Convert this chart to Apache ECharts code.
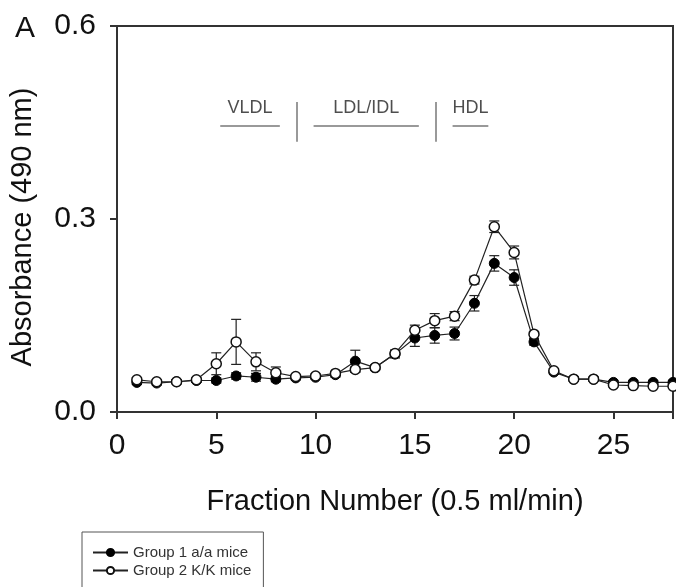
<!DOCTYPE html>
<html>
<head>
<meta charset="utf-8">
<script src="https://cdn.jsdelivr.net/npm/echarts@6/dist/echarts.min.js"></script>
<style>
  html, body { margin: 0; padding: 0; background: #fff; }
  #chart { width: 676px; height: 587px; }
</style>
</head>
<body>
<div id="chart"></div>
<script>
// fraction numbers
const fractions = [1, 2, 3, 4, 5, 6, 7, 8, 9, 10, 11, 12, 13, 14, 15, 16, 17, 18, 19, 20, 21, 22, 23, 24, 25, 26, 27, 28];

// Group 1 a/a mice (filled)
const group1 = [0.046, 0.045, 0.047, 0.049, 0.049, 0.056, 0.054, 0.051, 0.053, 0.054, 0.058, 0.079, 0.069, 0.090, 0.115, 0.119, 0.122, 0.169, 0.231, 0.209, 0.109, 0.062, 0.051, 0.051, 0.046, 0.046, 0.046, 0.046];
const group1Err = [0.003, 0.003, 0.003, 0.003, 0.004, 0.005, 0.006, 0.004, 0.003, 0.003, 0.004, 0.017, 0.004, 0.006, 0.013, 0.012, 0.010, 0.012, 0.012, 0.012, 0.005, 0.003, 0.003, 0.003, 0.003, 0.003, 0.003, 0.003];

// Group 2 K/K mice (open)
const group2 = [0.050, 0.047, 0.047, 0.050, 0.075, 0.109, 0.078, 0.061, 0.055, 0.056, 0.060, 0.066, 0.069, 0.091, 0.127, 0.142, 0.149, 0.205, 0.288, 0.248, 0.121, 0.064, 0.051, 0.051, 0.042, 0.041, 0.040, 0.040];
const group2Err = [0.003, 0.003, 0.003, 0.003, 0.017, 0.035, 0.014, 0.009, 0.003, 0.003, 0.003, 0.004, 0.003, 0.005, 0.008, 0.011, 0.007, 0.006, 0.009, 0.010, 0.004, 0.003, 0.003, 0.003, 0.003, 0.003, 0.003, 0.003];

// lipoprotein region labels
const regionNames = ['VLDL', 'LDL/IDL', 'HDL'];
const regionFrom = [5.2, 9.9, 16.9];
const regionTo = [8.2, 15.2, 18.7];
const regionLevel = 0.445;
const dividers = [9.05, 16.05];
const dividerLow = 0.42;
const dividerHigh = 0.482;

const xTicks = [0, 5, 10, 15, 20, 25];
const yTicks = [0.0, 0.3, 0.6];

const font = 'Liberation Sans, Arial, sans-serif';

function pairs(vals) {
  return fractions.map((f, i) => [f, vals[i]]);
}
function errData(vals, errs) {
  return fractions.map((f, i) => [f, vals[i] - errs[i], vals[i] + errs[i]]);
}

function renderErr(params, api) {
  const x = api.value(0);
  const lo = api.coord([x, api.value(1)]);
  const hi = api.coord([x, api.value(2)]);
  const cap = 5;
  const style = { stroke: '#222', lineWidth: 1.2 };
  return {
    type: 'group',
    children: [
      { type: 'line', shape: { x1: lo[0], y1: lo[1], x2: hi[0], y2: hi[1] }, style },
      { type: 'line', shape: { x1: hi[0] - cap, y1: hi[1], x2: hi[0] + cap, y2: hi[1] }, style },
      { type: 'line', shape: { x1: lo[0] - cap, y1: lo[1], x2: lo[0] + cap, y2: lo[1] }, style }
    ]
  };
}

const chart = echarts.init(document.getElementById('chart'));

const markLines = [];
regionNames.forEach((n, i) => {
  markLines.push([{ coord: [regionFrom[i], regionLevel] }, { coord: [regionTo[i], regionLevel] }]);
});
dividers.forEach(d => {
  markLines.push([{ coord: [d, dividerLow] }, { coord: [d, dividerHigh] }]);
});

const option = {
  animation: false,
  backgroundColor: '#fff',
  textStyle: { fontFamily: font },
  title: {
    text: 'A',
    left: 10,
    top: 9,
    textStyle: { fontFamily: font, fontSize: 30, fontWeight: 'normal', color: '#111' }
  },
  grid: {
    left: 117, right: 3, top: 26, bottom: 175,
    show: true, borderColor: '#333', borderWidth: 2, backgroundColor: 'transparent'
  },
  legend: {
    orient: 'vertical',
    left: 82,
    top: 532,
    height: 120,
    padding: [13, 12, 14, 10],
    itemGap: 3,
    itemWidth: 35,
    itemHeight: 9,
    borderColor: '#555',
    borderWidth: 1,
    textStyle: { fontFamily: font, fontSize: 15, color: '#333' },
    data: ['Group 1 a/a mice', 'Group 2 K/K mice']
  },
  xAxis: {
    type: 'value',
    min: 0, max: 28, interval: 5,
    name: 'Fraction Number (0.5 ml/min)',
    nameLocation: 'middle',
    nameGap: 75,
    nameTextStyle: { fontFamily: font, fontSize: 29, color: '#111' },
    axisLine: { show: true, lineStyle: { color: '#333', width: 2 } },
    axisTick: { show: true, inside: false, length: 7, lineStyle: { color: '#333', width: 2 } },
    axisLabel: {
      fontFamily: font, fontSize: 30, color: '#111', margin: 19,
      formatter: v => (xTicks.indexOf(v) >= 0 ? String(v) : '')
    },
    splitLine: { show: false }
  },
  yAxis: {
    type: 'value',
    min: 0, max: 0.6, interval: 0.3,
    name: 'Absorbance (490 nm)',
    nameLocation: 'middle',
    nameGap: 80,
    nameTextStyle: { fontFamily: font, fontSize: 29, color: '#111', padding: [0, 16, 0, 0] },
    axisLine: { show: true, lineStyle: { color: '#333', width: 2 } },
    axisTick: { show: true, inside: false, length: 7, lineStyle: { color: '#333', width: 2 } },
    axisLabel: {
      fontFamily: font, fontSize: 30, color: '#111', margin: 21,
      formatter: v => (yTicks.some(t => Math.abs(t - v) < 1e-9) ? v.toFixed(1) : '')
    },
    splitLine: { show: false }
  },
  series: [
    {
      type: 'custom',
      name: 'err1',
      renderItem: renderErr,
      data: errData(group1, group1Err),
      z: 1,
      silent: true
    },
    {
      type: 'custom',
      name: 'err2',
      renderItem: renderErr,
      data: errData(group2, group2Err),
      z: 1,
      silent: true
    },
    {
      name: 'Group 1 a/a mice',
      type: 'line',
      data: pairs(group1),
      symbol: 'circle',
      symbolSize: 10,
      lineStyle: { color: '#222', width: 1.2 },
      itemStyle: { color: '#000', borderColor: '#000', borderWidth: 1 },
      z: 3
    },
    {
      name: 'Group 2 K/K mice',
      type: 'line',
      data: pairs(group2),
      symbol: 'circle',
      symbolSize: 10,
      lineStyle: { color: '#222', width: 1.2 },
      itemStyle: { color: '#fff', borderColor: '#111', borderWidth: 1.5 },
      z: 4
    },
    {
      type: 'scatter',
      name: 'regions',
      data: regionNames.map((n, i) => ({ value: [(regionFrom[i] + regionTo[i]) / 2, regionLevel], name: n })),
      symbolSize: 0,
      silent: true,
      label: {
        show: true,
        position: 'top',
        distance: 9,
        formatter: p => p.name,
        fontFamily: font,
        fontSize: 18,
        color: '#222'
      },
      markLine: {
        silent: true,
        symbol: 'none',
        label: { show: false },
        lineStyle: { color: '#777', width: 1.5, type: 'solid' },
        data: markLines
      }
    }
  ]
};

chart.setOption(option);
</script>
</body>
</html>
